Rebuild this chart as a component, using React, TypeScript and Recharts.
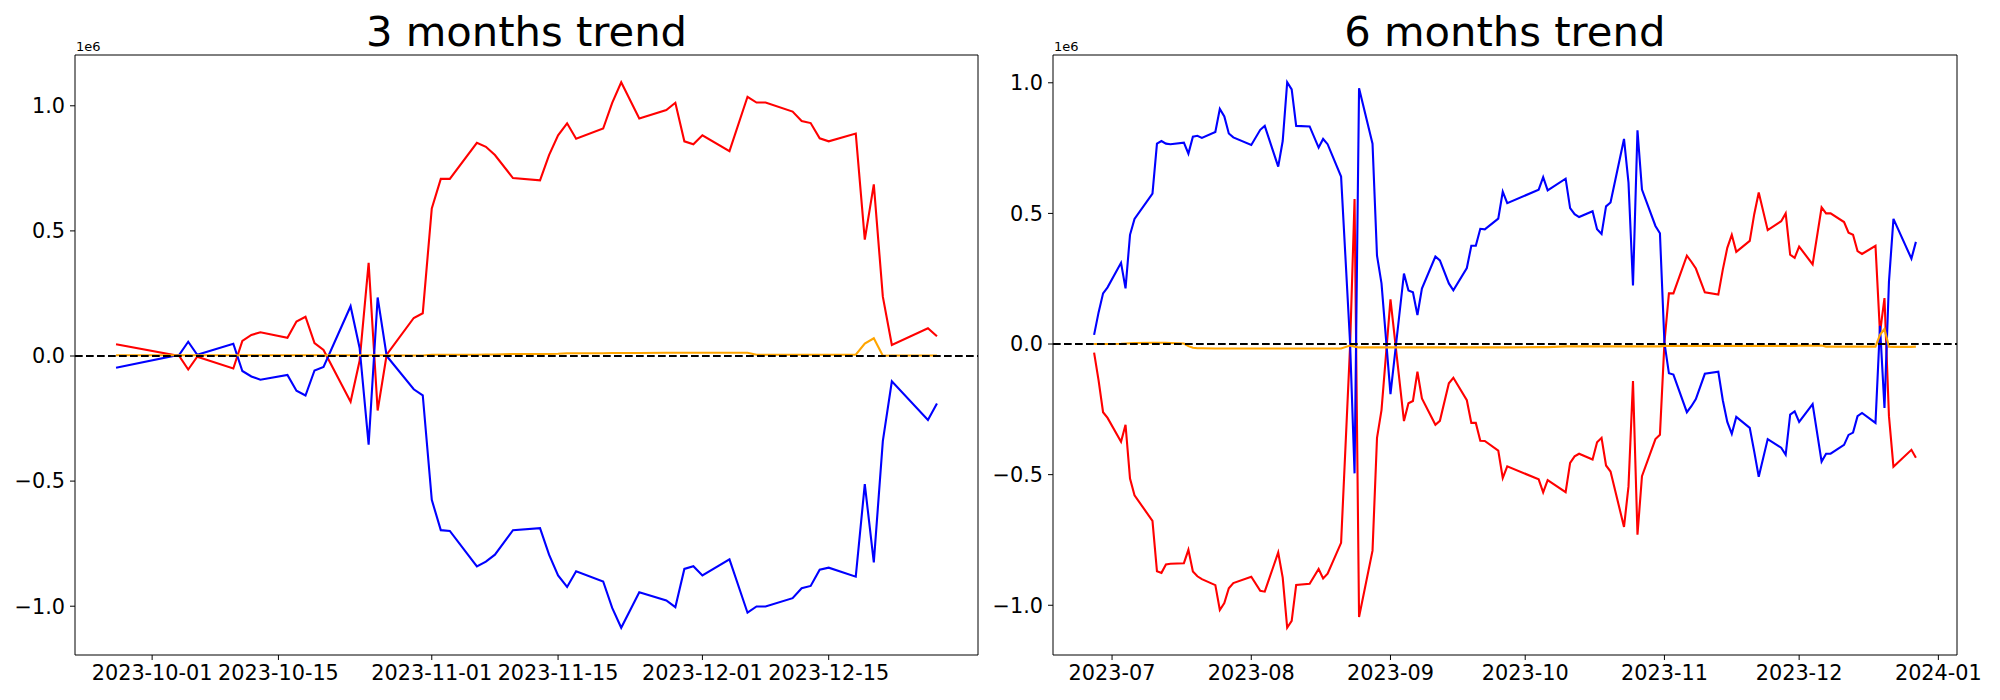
import React from 'react';
import { LineChart, Line, XAxis, YAxis, ReferenceLine } from 'recharts';

// values are in units of 1e6, as the axis offset label says

// ---- 3 months ----
const dates3m = [
  '2023-09-27',
  '2023-10-04', '2023-10-05', '2023-10-06', '2023-10-10', '2023-10-11', '2023-10-12', '2023-10-13',
  '2023-10-16', '2023-10-17', '2023-10-18', '2023-10-19', '2023-10-20', '2023-10-23', '2023-10-24',
  '2023-10-25', '2023-10-26', '2023-10-27', '2023-10-30', '2023-10-31',
  '2023-11-01', '2023-11-02', '2023-11-03', '2023-11-06', '2023-11-07', '2023-11-08', '2023-11-10',
  '2023-11-13', '2023-11-14', '2023-11-15', '2023-11-16', '2023-11-17', '2023-11-20', '2023-11-21',
  '2023-11-22', '2023-11-24', '2023-11-27', '2023-11-28', '2023-11-29', '2023-11-30',
  '2023-12-01', '2023-12-04', '2023-12-06', '2023-12-07', '2023-12-08', '2023-12-11', '2023-12-12',
  '2023-12-13', '2023-12-14', '2023-12-15', '2023-12-18', '2023-12-19', '2023-12-20', '2023-12-21',
  '2023-12-22', '2023-12-26', '2023-12-27',
];
const red3m = [
  0.047,
  0.0, -0.054, -0.003, -0.05, 0.06, 0.084, 0.095, 0.073, 0.138, 0.157, 0.052, 0.024, -0.183, -0.019,
  0.372, -0.218, 0.005, 0.152, 0.171,
  0.59, 0.708, 0.708, 0.852, 0.836, 0.803, 0.711, 0.702, 0.803, 0.882, 0.93, 0.868, 0.909, 1.012,
  1.094, 0.949, 0.983, 1.012, 0.858, 0.846,
  0.882, 0.819, 1.036, 1.013, 1.013, 0.977, 0.939, 0.931, 0.87, 0.858, 0.889, 0.465, 0.686, 0.237,
  0.044, 0.111, 0.079,
];
const blue3m = [
  -0.047,
  0.005, 0.057, 0.005, 0.049, -0.06, -0.082, -0.095, -0.076, -0.139, -0.158, -0.058, -0.044, 0.199, 0.032,
  -0.354, 0.234, 0.0, -0.133, -0.157,
  -0.575, -0.696, -0.699, -0.841, -0.822, -0.794, -0.696, -0.688, -0.794, -0.877, -0.923, -0.86, -0.901, -1.007,
  -1.086, -0.944, -0.977, -1.004, -0.851, -0.84,
  -0.877, -0.813, -1.026, -1.001, -1.001, -0.968, -0.928, -0.919, -0.854, -0.846, -0.882, -0.512, -0.825, -0.34,
  -0.101, -0.256, -0.19,
];
const orange3m = [
  0.003,
  0.003, 0.003, 0.003, 0.003, 0.003, 0.003, 0.003, 0.003, 0.003, 0.003, 0.003, 0.003, 0.003, 0.003,
  0.003, 0.003, 0.003, 0.002, 0.002,
  0.005, 0.005, 0.005, 0.005, 0.006, 0.006, 0.008, 0.008, 0.008, 0.009, 0.011, 0.011, 0.011, 0.012,
  0.012, 0.012, 0.013, 0.013, 0.013, 0.013,
  0.013, 0.013, 0.013, 0.005, 0.005, 0.005, 0.005, 0.005, 0.005, 0.005, 0.005, 0.05, 0.071, 0.001,
  0.002, 0.002, 0.002,
];
const ticks3m = ['2023-10-01', '2023-10-15', '2023-11-01', '2023-11-15', '2023-12-01', '2023-12-15'];

// ---- 6 months ----
const dates6m = [
  '2023-06-27', '2023-06-28', '2023-06-29', '2023-06-30',
  '2023-07-03', '2023-07-04', '2023-07-05', '2023-07-06', '2023-07-10', '2023-07-11', '2023-07-12',
  '2023-07-13', '2023-07-14', '2023-07-17', '2023-07-18', '2023-07-19', '2023-07-20', '2023-07-21',
  '2023-07-24', '2023-07-25', '2023-07-26', '2023-07-27', '2023-07-28',
  '2023-08-01', '2023-08-03', '2023-08-04', '2023-08-07', '2023-08-08', '2023-08-09', '2023-08-10',
  '2023-08-11', '2023-08-14', '2023-08-16', '2023-08-17', '2023-08-18', '2023-08-21', '2023-08-23',
  '2023-08-24', '2023-08-25', '2023-08-28', '2023-08-29', '2023-08-30',
  '2023-09-01', '2023-09-04', '2023-09-05', '2023-09-06', '2023-09-07', '2023-09-08', '2023-09-11',
  '2023-09-12', '2023-09-14', '2023-09-15', '2023-09-18', '2023-09-19', '2023-09-20', '2023-09-21',
  '2023-09-22', '2023-09-25', '2023-09-26', '2023-09-27',
  '2023-10-04', '2023-10-05', '2023-10-06', '2023-10-10', '2023-10-11', '2023-10-12', '2023-10-13',
  '2023-10-16', '2023-10-17', '2023-10-18', '2023-10-19', '2023-10-20', '2023-10-23', '2023-10-24',
  '2023-10-25', '2023-10-26', '2023-10-27', '2023-10-30', '2023-10-31',
  '2023-11-01', '2023-11-02', '2023-11-03', '2023-11-06', '2023-11-07', '2023-11-08', '2023-11-10',
  '2023-11-13', '2023-11-14', '2023-11-15', '2023-11-16', '2023-11-17', '2023-11-20', '2023-11-21',
  '2023-11-22', '2023-11-24', '2023-11-27', '2023-11-28', '2023-11-29', '2023-11-30',
  '2023-12-01', '2023-12-04', '2023-12-06', '2023-12-07', '2023-12-08', '2023-12-11', '2023-12-12',
  '2023-12-13', '2023-12-14', '2023-12-15', '2023-12-18', '2023-12-19', '2023-12-20', '2023-12-21',
  '2023-12-22', '2023-12-26', '2023-12-27',
];
const blue6m = [
  0.035, 0.121, 0.194, 0.217,
  0.311, 0.213, 0.418, 0.479, 0.576, 0.767, 0.777, 0.767, 0.765, 0.771, 0.729, 0.794, 0.797, 0.789,
  0.812, 0.9, 0.871, 0.806, 0.791,
  0.762, 0.82, 0.835, 0.679, 0.777, 1.002, 0.975, 0.835, 0.833, 0.752, 0.785, 0.765, 0.641, 0.005,
  -0.495, 0.979, 0.767, 0.338, 0.232,
  -0.192, 0.27, 0.205, 0.198, 0.111, 0.212, 0.335, 0.32, 0.232, 0.206, 0.291, 0.376, 0.376, 0.441,
  0.439, 0.48, 0.583, 0.539,
  0.591, 0.639, 0.588, 0.633, 0.52, 0.497, 0.486, 0.508, 0.439, 0.421, 0.527, 0.542, 0.785, 0.618,
  0.224, 0.818, 0.591, 0.452, 0.424,
  0.005, -0.112, -0.117, -0.261, -0.238, -0.211, -0.114, -0.106, -0.215, -0.298, -0.344, -0.279, -0.321, -0.412,
  -0.508, -0.364, -0.397, -0.424, -0.27, -0.258,
  -0.298, -0.23, -0.45, -0.42, -0.42, -0.386, -0.348, -0.339, -0.276, -0.264, -0.302, 0.07, -0.245, 0.239,
  0.479, 0.327, 0.391,
];
const red6m = [
  -0.033, -0.139, -0.261, -0.283,
  -0.374, -0.309, -0.515, -0.579, -0.677, -0.87, -0.876, -0.844, -0.841, -0.839, -0.788, -0.871, -0.889, -0.9,
  -0.923, -1.018, -0.992, -0.935, -0.915,
  -0.891, -0.945, -0.948, -0.798, -0.894, -1.086, -1.06, -0.922, -0.918, -0.861, -0.897, -0.879, -0.761, -0.01,
  0.555, -1.045, -0.791, -0.359, -0.253,
  0.171, -0.295, -0.227, -0.218, -0.106, -0.208, -0.309, -0.294, -0.15, -0.129, -0.215, -0.302, -0.302, -0.37,
  -0.371, -0.408, -0.513, -0.468,
  -0.518, -0.568, -0.521, -0.567, -0.455, -0.43, -0.42, -0.442, -0.376, -0.359, -0.465, -0.488, -0.7, -0.545,
  -0.142, -0.73, -0.506, -0.364, -0.347,
  0.005, 0.194, 0.194, 0.338, 0.315, 0.289, 0.198, 0.189, 0.285, 0.368, 0.418, 0.353, 0.395, 0.497,
  0.58, 0.436, 0.47, 0.5, 0.342, 0.33,
  0.373, 0.305, 0.523, 0.5, 0.5, 0.467, 0.426, 0.418, 0.356, 0.345, 0.376, 0.042, 0.176, -0.276,
  -0.47, -0.405, -0.435,
];
const orange6m = [
  0.0, 0.0, 0.0, 0.0,
  0.001, 0.002, 0.003, 0.004, 0.005, 0.005, 0.005, 0.005, 0.004, 0.002, -0.008, -0.014, -0.016, -0.016,
  -0.017, -0.017, -0.017, -0.017, -0.017,
  -0.017, -0.017, -0.017, -0.017, -0.017, -0.017, -0.017, -0.017, -0.017, -0.017, -0.017, -0.017, -0.017, -0.006,
  -0.01, -0.013, -0.013, -0.013, -0.013,
  -0.013, -0.013, -0.013, -0.013, -0.013, -0.013, -0.013, -0.013, -0.013, -0.013, -0.013, -0.013, -0.013, -0.013,
  -0.013, -0.013, -0.013, -0.013,
  -0.012, -0.012, -0.012, -0.009, -0.009, -0.009, -0.009, -0.009, -0.009, -0.009, -0.009, -0.009, -0.009, -0.009,
  -0.009, -0.009, -0.009, -0.009, -0.009,
  -0.007, -0.007, -0.007, -0.007, -0.007, -0.007, -0.007, -0.007, -0.007, -0.007, -0.007, -0.007, -0.007, -0.007,
  -0.007, -0.007, -0.007, -0.007, -0.007, -0.007,
  -0.006, -0.006, -0.006, -0.01, -0.01, -0.01, -0.01, -0.01, -0.01, -0.01, -0.01, 0.035, 0.058, -0.01,
  -0.011, -0.011, -0.01,
];
const ticks6m = ['2023-07-01', '2023-08-01', '2023-09-01', '2023-10-01', '2023-11-01', '2023-12-01', '2024-01-01'];

const yTicks = [-1.0, -0.5, 0.0, 0.5, 1.0];

const FONT = 'DejaVu Sans';

const toTs = (s: string) => Date.UTC(+s.slice(0, 4), +s.slice(5, 7) - 1, +s.slice(8, 10));

// matplotlib style 5% margins
const padded = (lo: number, hi: number): [number, number] => {
  const m = (hi - lo) * 0.05;
  return [lo - m, hi + m];
};

const fmtY = (v: number) => {
  const s = Math.abs(v).toFixed(1);
  return v < -1e-9 ? '\u2212' + s : s;
};

interface PanelProps {
  dates: string[];
  red: number[];
  blue: number[];
  orange: number[];
  ticks: string[];
  tickLabel: (s: string) => string;
  left: number;
  width: number;
  yAxisWidth: number;
  rightMargin: number;
}

const TrendPanel: React.FC<PanelProps> = ({ dates, red, blue, orange, ticks, tickLabel, left, width, yAxisWidth, rightMargin }) => {
  const data = dates.map((d, i) => ({ t: toTs(d), red: red[i], blue: blue[i], orange: orange[i] }));
  const ts = data.map((d) => d.t);
  const xDomain = padded(Math.min(...ts), Math.max(...ts));
  const all = [...red, ...blue, ...orange];
  const yDomain = padded(Math.min(...all), Math.max(...all));
  const tickTs = ticks.map(toTs);
  const labelOf = (v: number) => {
    const i = tickTs.indexOf(v);
    return i >= 0 ? tickLabel(ticks[i]) : '';
  };
  const tickStyle = { fill: '#000', fontSize: 20.8, fontFamily: FONT };

  return (
    <div style={{ position: 'absolute', left, top: 0 }}>
      <LineChart width={width} height={700} data={data} margin={{ top: 55, right: rightMargin, bottom: 0, left: 0 }}>
        <XAxis
          dataKey="t"
          type="number"
          domain={xDomain}
          allowDataOverflow
          ticks={tickTs}
          interval={0}
          tickFormatter={labelOf}
          height={45}
          tickSize={5}
          tickMargin={5}
          axisLine={{ stroke: '#000', strokeWidth: 1 }}
          tickLine={{ stroke: '#000', strokeWidth: 1 }}
          tick={tickStyle}
        />
        <YAxis
          type="number"
          domain={yDomain}
          allowDataOverflow
          ticks={yTicks}
          interval={0}
          tickFormatter={fmtY}
          width={yAxisWidth}
          tickSize={5}
          tickMargin={5}
          axisLine={{ stroke: '#000', strokeWidth: 1 }}
          tickLine={{ stroke: '#000', strokeWidth: 1 }}
          tick={tickStyle}
        />
        <Line type="linear" dataKey="red" stroke="#ff0000" strokeWidth={2.1} dot={false} isAnimationActive={false} />
        <Line type="linear" dataKey="blue" stroke="#0000ff" strokeWidth={2.1} dot={false} isAnimationActive={false} />
        <Line type="linear" dataKey="orange" stroke="#ffa500" strokeWidth={2.1} dot={false} isAnimationActive={false} />
        <ReferenceLine y={0} stroke="#000" strokeWidth={2} strokeDasharray="7.7 3.3" />
        {/* top and right spines */}
        <ReferenceLine y={yDomain[1]} stroke="#000" strokeWidth={1} />
        <ReferenceLine x={xDomain[1]} stroke="#000" strokeWidth={1} />
      </LineChart>
    </div>
  );
};

export default function App() {
  return (
    <div style={{ position: 'absolute', left: 0, top: 0, width: 2000, height: 700, background: '#fff' }}>
      <TrendPanel
        dates={dates3m}
        red={red3m}
        blue={blue3m}
        orange={orange3m}
        ticks={ticks3m}
        tickLabel={(s) => s}
        left={0}
        width={1000}
        yAxisWidth={75}
        rightMargin={22}
      />
      <TrendPanel
        dates={dates6m}
        red={red6m}
        blue={blue6m}
        orange={orange6m}
        ticks={ticks6m}
        tickLabel={(s) => s.slice(0, 7)}
        left={950}
        width={1050}
        yAxisWidth={103}
        rightMargin={43}
      />
      <svg width={2000} height={700} style={{ position: 'absolute', left: 0, top: 0, pointerEvents: 'none' }}>
        <text x={526.5} y={46} textAnchor="middle" fontFamily={FONT} fontSize={41.7} fill="#000">
          3 months trend
        </text>
        <text x={1504.8} y={46} textAnchor="middle" fontFamily={FONT} fontSize={41.7} fill="#000">
          6 months trend
        </text>
        <text x={76} y={51} fontFamily={FONT} fontSize={13} fill="#000">1e6</text>
        <text x={1054} y={51} fontFamily={FONT} fontSize={13} fill="#000">1e6</text>
      </svg>
    </div>
  );
}
